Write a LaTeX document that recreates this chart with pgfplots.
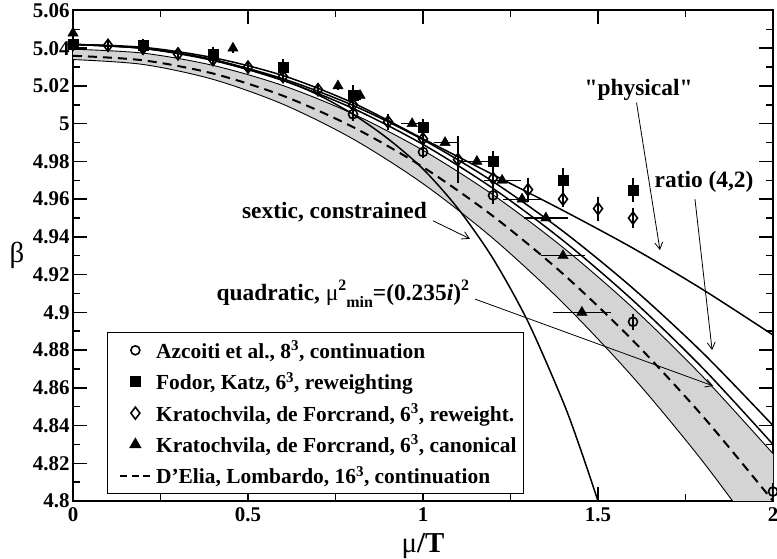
\documentclass[border=0pt]{standalone}
\usepackage{fontspec}
\setmainfont{Liberation Serif}
\usepackage{pgfplots}
\pgfplotsset{compat=1.18}
\usepgfplotslibrary{fillbetween}
\usetikzlibrary{arrows.meta}

\newcommand{\sz}[1]{\fontsize{#1}{#1}\selectfont}

\begin{document}
\begin{tikzpicture}
\begin{axis}[
  scale only axis, width=700bp, height=490.5bp,
  xmin=0, xmax=2, ymin=4.8, ymax=5.06,
  xtick={0,0.5,1,1.5,2},
  ytick={4.8,4.82,4.84,4.86,4.88,4.9,4.92,4.94,4.96,4.98,5,5.02,5.04,5.06},
  minor x tick num=1, minor y tick num=1,
  scaled ticks=false,
  tick align=inside, major tick length=14bp, minor tick length=7bp,
  every tick/.style={black, line width=1.5bp},
  axis line style={line width=2bp},
  /pgf/number format/assume math mode=true,
  ticklabel style={font=\sz{21}\bfseries},
  yticklabel style={/pgf/number format/fixed, /pgf/number format/precision=2},
  xticklabel style={/pgf/number format/fixed, yshift=-3bp},
  xlabel={μ\textbf{/T}},
  xlabel style={font=\sz{29}, at={(rel axis cs:0.5,0)}, anchor=center, yshift=-45bp},
  ylabel={β},
  ylabel style={font=\sz{29}, rotate=-90, at={(rel axis cs:0,0.5)}, anchor=center, xshift=-56bp},
  legend image code/.code={\draw[mark repeat=2,mark phase=2,#1] plot coordinates {(7bp,0bp) (22bp,0bp) (37bp,0bp)}; \path (0bp,0bp) (40bp,0bp);},
  legend style={at={(rel axis cs:0.0486,0.0143)}, anchor=south west, draw=black, line width=1.2bp,
    font=\sz{21.5}\bfseries, inner xsep=5bp, inner ysep=6bp, row sep=8.5bp},
  legend cell align=left,
  error bars/error bar style={line width=1.3bp},
  error bars/error mark options={line width=1.3bp, mark size=4.5bp},
]

% shaded band
\addplot[draw=none, name path=top, smooth, forget plot] coordinates {
(0,5.0395)(0.2,5.0374)(0.4,5.0309)(0.6,5.0202)(0.8,5.0052)(1.0,4.9859)(1.2,4.9623)(1.4,4.9344)(1.6,4.9023)(1.8,4.8658)(2.0,4.8251)};
\addplot[draw=none, name path=bot, smooth, forget plot] coordinates {
(0,5.034)(0.2,5.0314)(0.4,5.0235)(0.6,5.0103)(0.8,4.9919)(1.0,4.9682)(1.2,4.9392)(1.4,4.9050)(1.6,4.8656)(1.8,4.8208)(2.0,4.7708)};
\addplot[black!17, forget plot] fill between[of=top and bot];

\addplot[line width=0.9bp, smooth, forget plot] coordinates {
(0,5.0395)(0.2,5.0374)(0.4,5.0309)(0.6,5.0202)(0.8,5.0052)(1.0,4.9859)(1.2,4.9623)(1.4,4.9344)(1.6,4.9023)(1.8,4.8658)(2.0,4.8251)};
\addplot[line width=0.9bp, smooth, forget plot] coordinates {
(0,5.034)(0.2,5.0314)(0.4,5.0235)(0.6,5.0103)(0.8,4.9919)(1.0,4.9682)(1.2,4.9392)(1.4,4.9050)(1.6,4.8656)(1.8,4.8208)(2.0,4.7708)};

% D'Elia, Lombardo
\addplot[line width=2bp, dash pattern=on 9bp off 6bp, smooth, forget plot] coordinates {
(0,5.036)(0.2,5.0336)(0.4,5.0266)(0.6,5.0148)(0.8,4.9982)(1.0,4.977)(1.2,4.951)(1.4,4.9204)(1.6,4.885)(1.8,4.8448)(2.0,4.800)};

% quadratic
\addplot[line width=1.5bp, smooth, forget plot] coordinates {
(0,5.042)(0.2,5.0399)(0.4,5.0335)(0.6,5.0229)(0.8,5.0081)(1.0,4.989)(1.2,4.9657)(1.4,4.9381)(1.6,4.9063)(1.8,4.8703)(2.0,4.830)};
% ratio (4,2)
\addplot[line width=1.5bp, smooth, forget plot] coordinates {
(0,5.042)(0.2,5.0400)(0.4,5.0339)(0.6,5.0238)(0.8,5.0097)(1.0,4.9915)(1.2,4.9693)(1.4,4.9430)(1.6,4.9127)(1.8,4.8784)(2.0,4.840)};
% "physical"
\addplot[line width=1.5bp, smooth, forget plot] coordinates {
(0,5.042)(0.2,5.0405)(0.4,5.0350)(0.6,5.0255)(0.8,5.011)(1.0,4.992)(1.2,4.973)(1.4,4.954)(1.6,4.934)(1.8,4.912)(2.0,4.888)};
% sextic, constrained
\addplot[line width=1.5bp, smooth, forget plot] coordinates {
(0,5.042)(0.2,5.040)(0.4,5.034)(0.6,5.023)(0.7,5.0153)(0.8,5.005)(0.9,4.992)(1.0,4.976)(1.1,4.955)(1.2,4.9285)(1.3,4.895)(1.4,4.8527)(1.45,4.8275)(1.5,4.800)};

% Azcoiti et al.
\addplot[only marks, mark=o, mark size=4.5bp, mark options={line width=1.6bp}, forget plot,
  error bars/.cd, y dir=both, y explicit] coordinates {
(0,5.042)+-(0,0.001) (0.8,5.005)+-(0,0.001) (1.0,4.985)+-(0,0.001) (1.2,4.962)+-(0,0.002) (1.6,4.895)+-(0,0.002) (2.0,4.805)+-(0,0.002)};
% Fodor, Katz
\addplot[only marks, mark=square*, mark size=5bp, forget plot,
  error bars/.cd, y dir=both, y explicit] coordinates {
(0,5.042)+-(0,0.001) (0.2,5.0415)+-(0,0.001) (0.4,5.037)+-(0,0.0015) (0.6,5.030)+-(0,0.002) (0.8,5.015)+-(0,0.003)
(1.0,4.998)+-(0,0.002) (1.2,4.980)+-(0,0.003) (1.4,4.970)+-(0,0.004) (1.6,4.965)+-(0,0.004)};
% Kratochvila, de Forcrand, reweighting
\addplot[only marks, mark=diamond, mark size=6bp, mark options={line width=1.6bp, fill=white}, forget plot,
  error bars/.cd, y dir=both, y explicit] coordinates {
(0,5.042)+-(0,0.0005) (0.1,5.0415)+-(0,0.0005) (0.2,5.040)+-(0,0.0005) (0.3,5.037)+-(0,0.0005) (0.4,5.034)+-(0,0.001)
(0.5,5.030)+-(0,0.001) (0.6,5.025)+-(0,0.001) (0.7,5.018)+-(0,0.001) (0.8,5.010)+-(0,0.002) (0.9,5.001)+-(0,0.002)
(1.0,4.992)+-(0,0.002) (1.1,4.981)+-(0,0.010) (1.2,4.971)+-(0,0.003) (1.3,4.965)+-(0,0.004) (1.4,4.960)+-(0,0.002)
(1.5,4.955)+-(0,0.004) (1.6,4.950)+-(0,0.003)};
% Kratochvila, de Forcrand, canonical
\addplot[only marks, mark=triangle*, mark size=6bp, forget plot,
  error bars/.cd, x dir=both, x explicit] coordinates {
(0,5.048)+-(0,0) (0.457,5.040)+-(0,0) (0.757,5.020)+-(0,0) (0.82,5.015)+-(0,0) (0.969,5.000)+-(0.02,0)
(1.063,4.990)+-(0.02,0) (1.154,4.980)+-(0.036,0) (1.226,4.970)+-(0.04,0) (1.283,4.960)+-(0.043,0)
(1.351,4.950)+-(0.051,0) (1.40,4.930)+-(0.05,0) (1.454,4.900)+-(0.07,0)};

\addlegendimage{only marks, mark=o, mark size=4.5bp, mark options={line width=1.6bp}}
\addlegendentry{Azcoiti et al., 8\textsuperscript{3}, continuation}
\addlegendimage{only marks, mark=square*, mark size=5bp}
\addlegendentry{Fodor, Katz, 6\textsuperscript{3}, reweighting}
\addlegendimage{only marks, mark=diamond, mark size=6bp, mark options={line width=1.6bp}}
\addlegendentry{Kratochvila, de Forcrand, 6\textsuperscript{3}, reweight.}
\addlegendimage{only marks, mark=triangle*, mark size=6bp}
\addlegendentry{Kratochvila, de Forcrand, 6\textsuperscript{3}, canonical}
\addlegendimage{line width=1.5bp, dash pattern=on 7bp off 4.5bp}
\addlegendentry{D’Elia, Lombardo, 16\textsuperscript{3}, continuation}

% annotations
\node[font=\sz{23.5}\bfseries] at (axis cs:1.616,5.018) {\addfontfeatures{Ligatures=TeXOff}"physical"};
\draw[-{Straight Barb[length=7bp,width=8bp]}, line width=0.8bp] (axis cs:1.610,5.0112) -- (axis cs:1.677,4.933);
\node[font=\sz{23.5}\bfseries] at (axis cs:1.803,4.969) {ratio (4,2)};
\draw[-{Straight Barb[length=7bp,width=8bp]}, line width=0.8bp] (axis cs:1.777,4.960) -- (axis cs:1.826,4.880);
\node[font=\sz{23.5}\bfseries] at (axis cs:0.747,4.953) {sextic, constrained};
\draw[-{Straight Barb[length=7bp,width=8bp]}, line width=0.8bp] (axis cs:1.029,4.9485) -- (axis cs:1.134,4.939);
\node[font=\sz{23.5}\bfseries] at (axis cs:0.771,4.910) {quadratic, {\mdseries μ}\raisebox{1.0ex}{\sz{16}2}\raisebox{-0.6ex}{\sz{16}min}=(0.235\textit{i})\raisebox{1.0ex}{\sz{16}2}};
\draw[-{Straight Barb[length=7bp,width=8bp]}, line width=0.8bp] (axis cs:1.149,4.907) -- (axis cs:1.829,4.861);
\end{axis}
\pgfresetboundingbox
\useasboundingbox (-73bp,-58bp) rectangle (704bp,501bp);
\end{tikzpicture}
\end{document}
